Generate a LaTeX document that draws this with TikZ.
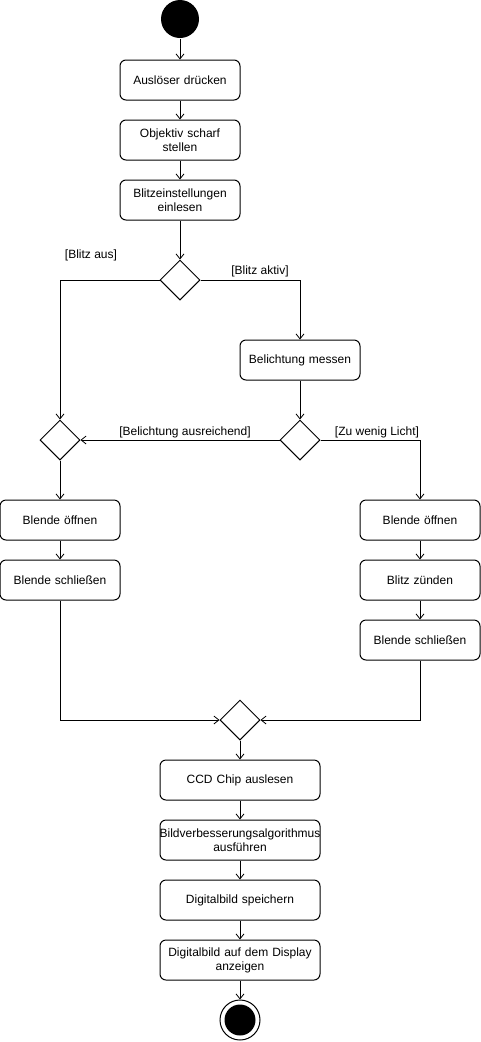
\documentclass[tikz,border=0pt]{standalone}
\usepackage{fontspec}
\setmainfont{Liberation Sans}
\usepackage{tikz}
\usetikzlibrary{
    positioning,
    shapes.geometric,
    arrows.meta
}

\begin{document}
\begin{tikzpicture}[
        x=1pt, y=-1pt,
        line width=1pt,
        font=\fontsize{12}{14}\selectfont,
        aktion/.style={
            draw,
            rectangle,
            rounded corners=6pt,
            inner sep=0pt,
            minimum height=40pt,
            text width=120pt,
            align=center
        },
        aktionbreit/.style={aktion, text width=160pt},
        entscheidung/.style={
            draw,
            diamond,
            inner sep=0pt,
            minimum width=40pt,
            minimum height=40pt
        },
        fluss/.style={-{Straight Barb[length=5pt,width=8pt,line width=0.8pt]}},
        bedingung/.style={inner sep=0pt}
    ]

    \useasboundingbox (0,0) rectangle (481,1042);

    % Start und obere Kette
    \node[circle, fill=black, minimum size=38pt, inner sep=0pt] (start) at (180,19) {};
    \node[aktion] (ausloeser) at (180,80) {Ausl\"oser dr\"ucken};
    \node[aktion] (objektiv) at (180,140) {Objektiv scharf\\stellen};
    \node[aktion] (blitzein) at (180,200) {Blitzeinstellungen\\einlesen};
    \node[entscheidung] (blitzfrage) at (180,280) {};

    % Blitzzweig
    \node[aktion] (messen) at (300,360) {Belichtung messen};
    \node[entscheidung] (lichtfrage) at (300,440) {};
    \node[entscheidung] (linksmerge) at (60,440) {};

    % linker Zweig
    \node[aktion] (loeffnen) at (60,520) {Blende \"offnen};
    \node[aktion] (lschliessen) at (60,580) {Blende schlie\ss en};

    % rechter Zweig
    \node[aktion] (roeffnen) at (420,520) {Blende \"offnen};
    \node[aktion] (zuenden) at (420,580) {Blitz z\"unden};
    \node[aktion] (rschliessen) at (420,640) {Blende schlie\ss en};

    % untere Kette
    \node[entscheidung] (zusammen) at (240,720) {};
    \node[aktionbreit] (ccd) at (240,780) {CCD Chip auslesen};
    \node[aktionbreit] (verbessern) at (240,840) {\makebox[160pt]{Bildverbesserungsalgorithmus}\\ausf\"uhren};
    \node[aktionbreit] (speichern) at (240,900) {Digitalbild speichern};
    \node[aktionbreit] (anzeigen) at (240,960) {Digitalbild auf dem Display\\anzeigen};
    \node[circle, draw, minimum size=40pt, inner sep=0pt] (ende) at (240,1020) {};
    \node[circle, fill=black, minimum size=31pt, inner sep=0pt] (endepunkt) at (ende) {};

    % Bedingungen
    \node[bedingung] (blitzaus) at (91,255) {[Blitz aus]};
    \node[bedingung] (blitzaktiv) at (260,271) {[Blitz aktiv]};
    \node[bedingung] (ausreichend) at (185,432) {[Belichtung ausreichend]};
    \node[bedingung] (wenig) at (377,432) {[Zu wenig Licht]};

    % Kanten
    \draw[fluss] (start) -- (ausloeser);
    \draw[fluss] (ausloeser) -- (objektiv);
    \draw[fluss] (objektiv) -- (blitzein);
    \draw[fluss] (blitzein) -- (blitzfrage);
    \draw[fluss] (blitzfrage.west) -| (linksmerge.north);
    \draw[fluss] (blitzfrage.east) -| (messen.north);
    \draw[fluss] (messen) -- (lichtfrage);
    \draw[fluss] (lichtfrage.west) -- (linksmerge.east);
    \draw[fluss] (lichtfrage.east) -| (roeffnen.north);
    \draw[fluss] (linksmerge) -- (loeffnen);
    \draw[fluss] (loeffnen) -- (lschliessen);
    \draw[fluss] (roeffnen) -- (zuenden);
    \draw[fluss] (zuenden) -- (rschliessen);
    \draw[fluss] (lschliessen.south) |- (zusammen.west);
    \draw[fluss] (rschliessen.south) |- (zusammen.east);
    \draw[fluss] (zusammen) -- (ccd);
    \draw[fluss] (ccd) -- (verbessern);
    \draw[fluss] (verbessern) -- (speichern);
    \draw[fluss] (speichern) -- (anzeigen);
    \draw[fluss] (anzeigen) -- (ende);

\end{tikzpicture}
\end{document}
